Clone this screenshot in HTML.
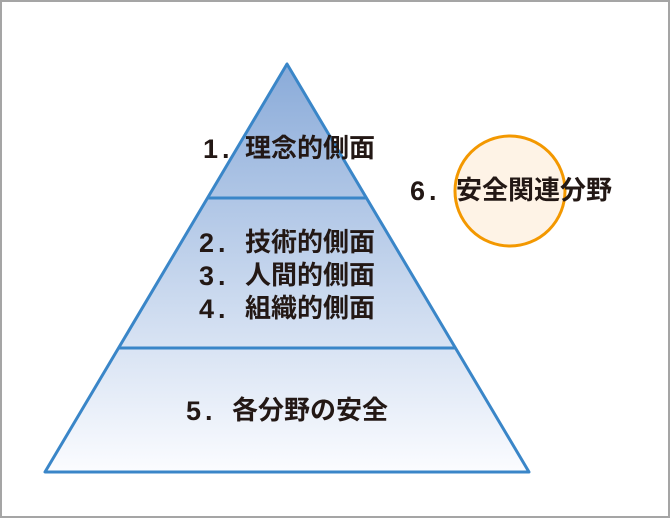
<!DOCTYPE html>
<html><head><meta charset="utf-8"><style>
html,body{margin:0;padding:0;background:#fff}
svg{display:block}
text{font-family:"Liberation Sans","Noto Sans CJK JP",sans-serif;font-weight:bold;font-size:26px;fill:#231815}
text.n{font-size:27px;letter-spacing:4px}
</style></head><body>
<svg width="670" height="518" viewBox="0 0 670 518">
<defs>
<linearGradient id="g" x1="0" y1="64" x2="0" y2="472" gradientUnits="userSpaceOnUse">
<stop offset="0" stop-color="#8aabd9"/>
<stop offset="1" stop-color="#fbfcff"/>
</linearGradient>
</defs>
<rect x="1" y="1" width="668" height="516" fill="#fff" stroke="#a5a5a5" stroke-width="2"/>
<polygon points="287,64 45,472 529,472" fill="url(#g)" stroke="#3a86c8" stroke-width="3" stroke-linejoin="round"/>
<line x1="207" y1="198" x2="367" y2="198" stroke="#3a86c8" stroke-width="3"/>
<line x1="118" y1="348" x2="456" y2="348" stroke="#3a86c8" stroke-width="3"/>
<circle cx="510" cy="191" r="55" fill="#fef3e6" stroke="#f39800" stroke-width="3"/>
<text class="n" x="203" y="158">1.</text><text x="375" y="157" text-anchor="end">理念的側面</text>
<text class="n" x="199" y="252">2.</text><text x="375" y="251" text-anchor="end">技術的側面</text>
<text class="n" x="199" y="285">3.</text><text x="375" y="284" text-anchor="end">人間的側面</text>
<text class="n" x="199" y="318">4.</text><text x="375" y="317" text-anchor="end">組織的側面</text>
<text class="n" x="186" y="420">5.</text><text x="388" y="419" text-anchor="end">各分野の安全</text>
<text class="n" x="410" y="200">6.</text><text x="612" y="199" text-anchor="end">安全関連分野</text>
</svg>
</body></html>
